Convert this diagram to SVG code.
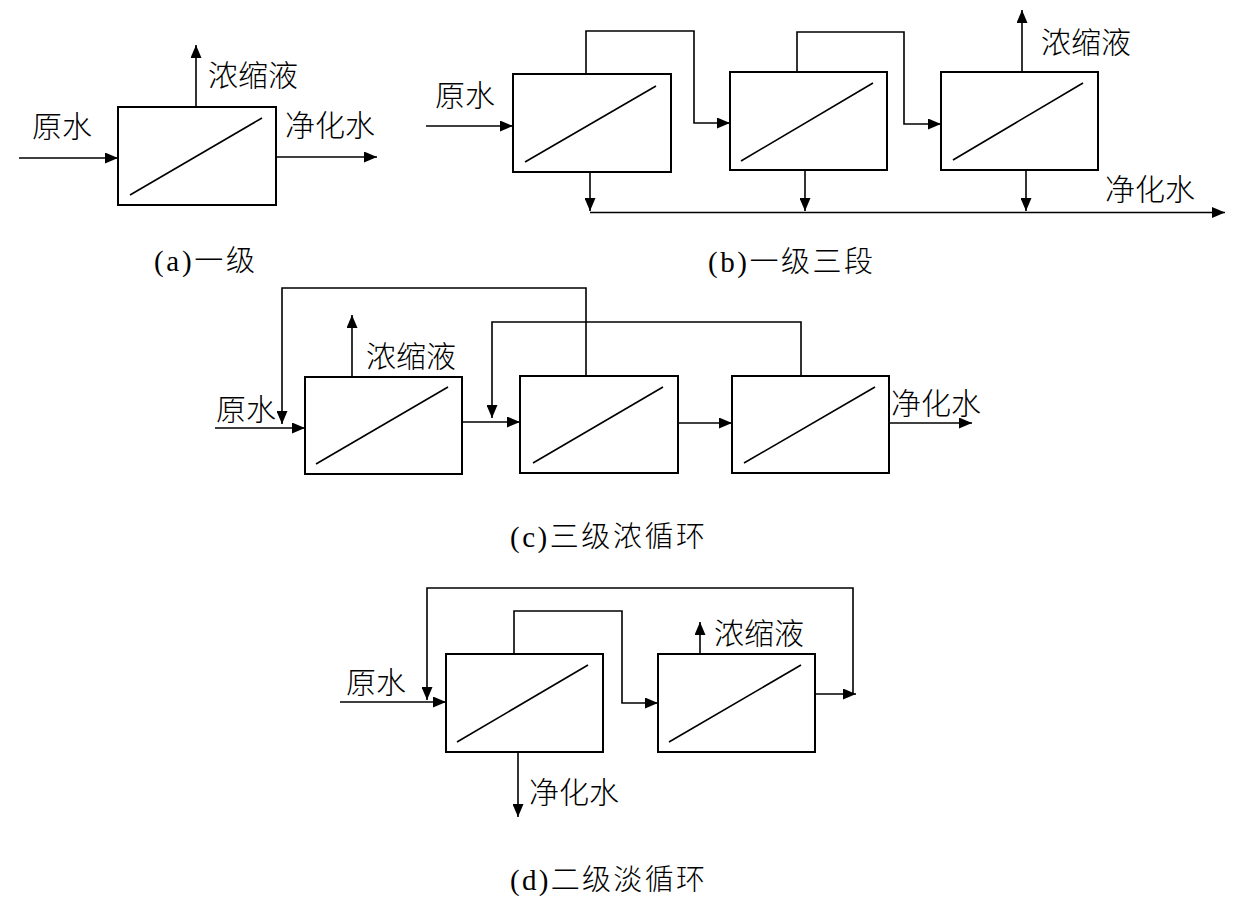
<svg xmlns="http://www.w3.org/2000/svg" width="1249" height="908" viewBox="0 0 1249 908">
<style>
.box{fill:#fff;stroke:#000;stroke-width:2}
.diag{stroke:#000;stroke-width:1.6;fill:none}
.ln{stroke:#000;stroke-width:1.6;fill:none}
.arr{marker-end:url(#ah)}
.lbl{font-family:"Noto Sans CJK SC","Noto Sans",sans-serif;font-size:30px;font-weight:300;fill:#000;dominant-baseline:central}
.cap{font-family:"Liberation Serif","Noto Sans CJK SC",serif;font-size:29px;font-weight:300;fill:#000;dominant-baseline:central}
</style>
<defs>
<marker id="ah" markerUnits="userSpaceOnUse" markerWidth="13" markerHeight="11" refX="13" refY="5.5" orient="auto">
<path d="M0,0 L13,5.5 L0,11 z" fill="#000"/>
</marker>
</defs>
<rect width="1249" height="908" fill="#fff"/>

<g id="connectors">
<!-- (a) -->
<line class="ln arr" x1="19" y1="158" x2="118" y2="158"/>
<line class="ln arr" x1="276" y1="157" x2="377" y2="157"/>
<line class="ln arr" x1="196" y1="107" x2="196" y2="45"/>
<!-- (b) -->
<line class="ln arr" x1="426" y1="126" x2="513" y2="126"/>
<polyline class="ln arr" points="586,74 586,31 694,31 694,123 730,123"/>
<polyline class="ln arr" points="797,72 797,32 904,32 904,124 941,124"/>
<line class="ln arr" x1="1022" y1="72" x2="1022" y2="10"/>
<line class="ln arr" x1="590" y1="172" x2="590" y2="211"/>
<line class="ln arr" x1="805" y1="170" x2="805" y2="211"/>
<line class="ln arr" x1="1026" y1="170" x2="1026" y2="211"/>
<line class="ln arr" x1="590" y1="212.5" x2="1225" y2="212.5"/>
<!-- (c) -->
<line class="ln arr" x1="215" y1="428" x2="305" y2="428"/>
<line class="ln arr" x1="352" y1="377" x2="352" y2="315"/>
<polyline class="ln arr" points="586,376 586,288 282,288 282,424"/>
<polyline class="ln arr" points="801,376 801,322 492,322 492,418"/>
<line class="ln arr" x1="462" y1="422" x2="520" y2="422"/>
<line class="ln arr" x1="678" y1="423" x2="732" y2="423"/>
<line class="ln arr" x1="889" y1="423" x2="972" y2="423"/>
<!-- (d) -->
<line class="ln arr" x1="340" y1="702" x2="446" y2="702"/>
<polyline class="ln arr" points="853,694 853,588 427,588 427,700"/>
<line class="ln arr" x1="815" y1="694" x2="856" y2="694"/>
<polyline class="ln arr" points="514,654 514,611 622,611 622,703 658,703"/>
<line class="ln arr" x1="700" y1="654" x2="700" y2="622"/>
<line class="ln arr" x1="518" y1="752" x2="518" y2="817"/>
</g>

<g id="a-unit">
<rect class="box" x="118" y="107" width="158" height="98"/>
<line class="diag" x1="130" y1="195" x2="262" y2="118"/>
</g>
<g id="a-labels">
<text class="lbl" x="208" y="73">浓缩液</text>
<text class="lbl" x="32" y="124">原水</text>
<text class="lbl" x="285" y="123">净化水</text>
<text class="cap" x="154" y="261" textLength="101">(a)一级</text>
</g>

<g id="b-unit1">
<rect class="box" x="513" y="74" width="158" height="98"/>
<line class="diag" x1="525" y1="162" x2="656" y2="86"/>
</g>
<g id="b-unit2">
<rect class="box" x="730" y="72" width="157" height="98"/>
<line class="diag" x1="741" y1="161" x2="873" y2="83"/>
</g>
<g id="b-unit3">
<rect class="box" x="941" y="72" width="157" height="98"/>
<line class="diag" x1="953" y1="160" x2="1083" y2="83"/>
</g>
<g id="b-labels">
<text class="lbl" x="435" y="93">原水</text>
<text class="lbl" x="1041" y="40">浓缩液</text>
<text class="lbl" x="1105" y="187">净化水</text>
<text class="cap" x="708" y="262" textLength="165">(b)一级三段</text>
</g>

<g id="c-unit1">
<rect class="box" x="305" y="377" width="157" height="97"/>
<line class="diag" x1="316" y1="464" x2="448" y2="387"/>
</g>
<g id="c-unit2">
<rect class="box" x="520" y="376" width="158" height="97"/>
<line class="diag" x1="533" y1="463" x2="663" y2="387"/>
</g>
<g id="c-unit3">
<rect class="box" x="732" y="376" width="157" height="97"/>
<line class="diag" x1="744" y1="463" x2="875" y2="387"/>
</g>
<g id="c-labels">
<text class="lbl" x="366" y="354">浓缩液</text>
<text class="lbl" x="216" y="407">原水</text>
<text class="lbl" x="891" y="401">净化水</text>
<text class="cap" x="510" y="537" textLength="195">(c)三级浓循环</text>
</g>

<g id="d-unit1">
<rect class="box" x="446" y="654" width="157" height="98"/>
<line class="diag" x1="457" y1="742" x2="588" y2="665"/>
</g>
<g id="d-unit2">
<rect class="box" x="658" y="654" width="157" height="98"/>
<line class="diag" x1="669" y1="742" x2="801" y2="665"/>
</g>
<g id="d-labels">
<text class="lbl" x="346" y="680">原水</text>
<text class="lbl" x="714" y="631">浓缩液</text>
<text class="lbl" x="529" y="790">净化水</text>
<text class="cap" x="510" y="880" textLength="195">(d)二级淡循环</text>
</g>
</svg>
